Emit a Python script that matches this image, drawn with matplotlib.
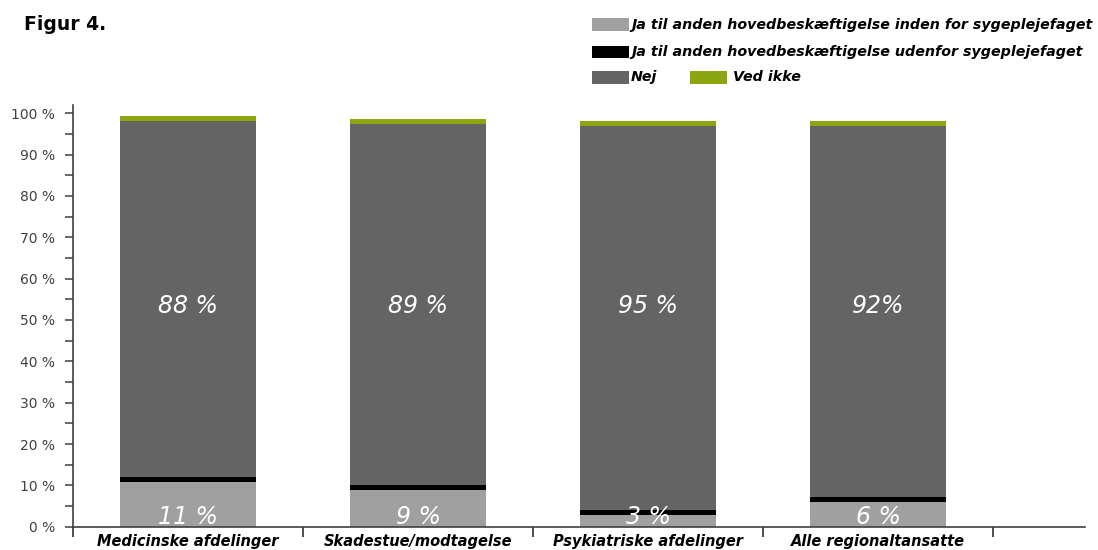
import matplotlib
matplotlib.use("Agg")
import matplotlib.pyplot as plt
from matplotlib.patches import Rectangle
from matplotlib.ticker import MultipleLocator, FuncFormatter
import numpy as np

# data (percent of respondents)
categories = ["Medicinske afdelinger", "Skadestue/modtagelse",
              "Psykiatriske afdelinger", "Alle regionaltansatte"]
ja_inden = [10.8, 8.9, 2.8, 6.0]
ja_uden = [1.2, 1.2, 1.2, 1.2]
nej = [86.2, 87.2, 93.0, 89.8]
ved_ikke = [1.2, 1.2, 1.2, 1.2]
nej_labels = ["88 %", "89 %", "95 %", "92%"]
ja_labels = ["11 %", "9 %", "3 %", "6 %"]

series_names = ["Ja til anden hovedbeskæftigelse inden for sygeplejefaget",
                "Ja til anden hovedbeskæftigelse udenfor sygeplejefaget",
                "Nej", "Ved ikke"]
colors = ["#a0a0a0", "#000000", "#646464", "#8ca611"]

W, H = 1098, 550
fig = plt.figure(figsize=(W / 100, H / 100), dpi=100)

def fx(px):
    return px / W

def fy(py):
    return 1 - py / H

ax = fig.add_axes([fx(73), fy(526.7), fx(1085 - 73), (526.7 - 105) / H])

x = np.arange(len(categories))
bottom = np.zeros(len(categories))
for vals, col in zip([ja_inden, ja_uden, nej, ved_ikke], colors):
    ax.bar(x, vals, width=0.595, bottom=bottom, color=col, linewidth=0)
    bottom += np.array(vals)

for i in x:
    ax.text(i, 53.5, nej_labels[i], color="white", fontsize=17, style="italic",
            ha="center", va="center")
    ax.text(i, 0.7, ja_labels[i], color="white", fontsize=17, style="italic",
            ha="center", va="baseline")

ax.set_xlim(-0.5, 3.9)
ax.set_ylim(0, 102)

axis_col = "#404040"
for s in ["top", "right"]:
    ax.spines[s].set_visible(False)
for s in ["left", "bottom"]:
    ax.spines[s].set_color(axis_col)
    ax.spines[s].set_linewidth(1.2)

ax.yaxis.set_major_locator(MultipleLocator(10))
ax.yaxis.set_minor_locator(MultipleLocator(5))
ax.yaxis.set_major_formatter(FuncFormatter(lambda v, p: f"{int(v)} %"))
ax.tick_params(axis="y", which="both", direction="out", length=6, width=1.1,
               color=axis_col, labelcolor=axis_col, labelsize=10, pad=7)

ax.set_xticks(x)
ax.set_xticklabels(categories, fontsize=10.5, style="italic",
                   fontweight="bold", color="black")
ax.set_xticks(np.arange(-0.5, 4, 1), minor=True)
ax.tick_params(axis="x", which="major", length=0, pad=5)
ax.tick_params(axis="x", which="minor", direction="out", length=7, width=1.3,
               color=axis_col)

# title
fig.text(fx(24), fy(30), "Figur 4.", fontsize=13.5, fontweight="bold",
         ha="left", va="baseline")

# legend
leg_rows = [(592, 18.3, 631, 24.5, 0),
            (592, 45.7, 631, 51.7, 1),
            (592, 71.0, 631, 77.2, 2),
            (690, 71.0, 733, 77.2, 3)]
for px, py, tx, ty, k in leg_rows:
    fig.patches.append(Rectangle((fx(px), fy(py + 12.5)), fx(37), 12.5 / H,
                                 transform=fig.transFigure, color=colors[k],
                                 linewidth=0))
    fig.text(fx(tx), fy(ty), series_names[k], fontsize=10.3, style="italic",
             fontweight="bold", ha="left", va="center")

fig.savefig("out.png", dpi=100)
